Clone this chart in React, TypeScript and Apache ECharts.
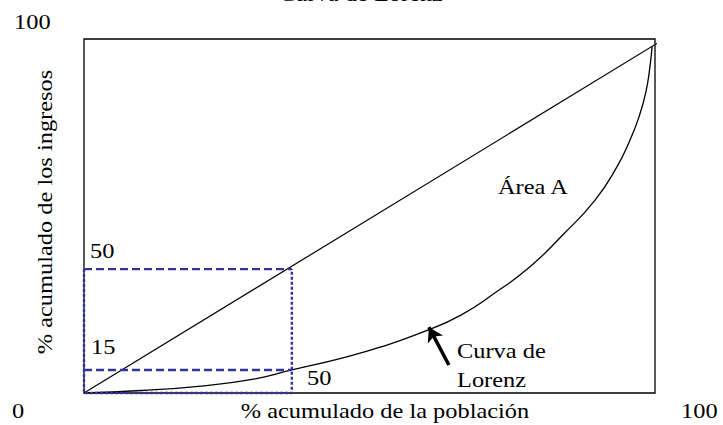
import { useEffect, useRef } from "react";
import * as echarts from "echarts";

// Lorenz curve (x: cumulative % of population, y: cumulative % of income)
const lorenzX = [0, 10, 20, 30, 36.4, 45, 52, 60, 66, 72, 78, 84, 89.5, 93.3, 95.5, 97.2, 98.4, 99.1, 99.5];
const lorenzY = [0, 0.7, 1.9, 4.0, 6.5, 9.8, 13.0, 17.6, 22.0, 28.3, 35.5, 44.9, 54.5, 63.8, 71.0, 78.0, 85.0, 92.0, 98.0];

// Line of equality
const equalityX = [0, 100.5];
const equalityY = [0, 98.9];

// Guide box (drawn position) and its labels
const guideX = 36.4;
const guideTopY = 35;
const guideLowY = 6.5;
const guideLabels = ["50", "15", "50"];

// Arrow pointing to the curve: tail and tip
const arrowX = [63.9, 60.4];
const arrowY = [7.9, 18.6];

// Texts
const cornerLabels = ["100", "0", "100"];
const chartTitle = "Curva de Lorenz";
const xTitle = "% acumulado de la población";
const yTitle = "% acumulado de los ingresos";
const areaLabel = "Área A";
const curveLabel = ["Curva de", "Lorenz"];

const FONT = "Liberation Serif";
const BLUE = "#34349c";
const STRETCH = 1.22;

function txt(text: string, x: number, y: number, align: string = "left", extra: any = {}) {
  return {
    type: "text",
    x,
    y,
    scaleX: STRETCH,
    silent: true,
    ...extra,
    style: {
      text,
      fill: "#000",
      fontSize: 20,
      fontFamily: FONT,
      align,
      verticalAlign: "middle",
    },
  };
}

export default function App() {
  const ref = useRef<HTMLDivElement>(null);
  useEffect(() => {
    if (!ref.current) return;
    const chart = echarts.init(ref.current, null, { renderer: "svg" });
    const pairs = (xs: number[], ys: number[]) => xs.map((x, i) => [x, ys[i]]);
    chart.setOption({
      animation: false,
      backgroundColor: "#fff",
      grid: {
        left: 84,
        top: 39,
        width: 571,
        height: 354,
        show: true,
        borderColor: "#000",
        borderWidth: 1.3,
        backgroundColor: "transparent",
      },
      xAxis: { type: "value", min: 0, max: 100, show: false },
      yAxis: { type: "value", min: 0, max: 100, show: false },
      series: [
        {
          type: "line",
          data: pairs(equalityX, equalityY),
          symbol: "none",
          clip: false,
          lineStyle: { color: "#000", width: 1.2 },
          z: 3,
        },
        {
          type: "line",
          data: pairs(lorenzX, lorenzY),
          symbol: "none",
          smooth: 0.5,
          clip: false,
          lineStyle: { color: "#000", width: 1.3 },
          z: 3,
        },
        {
          type: "line",
          data: [[0, guideTopY], [guideX, guideTopY]],
          symbol: "none",
          clip: false,
          lineStyle: { color: BLUE, width: 2.4, type: [8, 4] },
          z: 4,
        },
        {
          type: "line",
          data: [[0, guideLowY], [guideX, guideLowY]],
          symbol: "none",
          clip: false,
          lineStyle: { color: BLUE, width: 2.4, type: [8, 4] },
          z: 4,
        },
        {
          type: "line",
          data: [[0, guideTopY], [0, 0], [guideX, 0], [guideX, guideTopY]],
          symbol: "none",
          clip: false,
          lineStyle: { color: BLUE, width: 2.4, type: [3, 2] },
          z: 4,
        },
        {
          type: "line",
          data: [],
          symbol: "none",
          markLine: {
            silent: true,
            symbol: ["none", "arrow"],
            symbolSize: [13, 14],
            label: { show: false },
            lineStyle: { color: "#000", width: 3.5, type: "solid" },
            data: [
              [
                { coord: [arrowX[0], arrowY[0]] },
                { coord: [arrowX[1], arrowY[1]] },
              ],
            ],
          },
          z: 5,
        },
      ],
      graphic: [
        txt(chartTitle, 361, -6, "center", {}),
        txt(cornerLabels[0], 14, 22),
        txt(cornerLabels[1], 12, 411),
        txt(cornerLabels[2], 681, 411),
        txt(xTitle, 385, 411, "center"),
        txt(yTitle, 45, 212, "center", { rotation: Math.PI / 2 }),
        txt(guideLabels[0], 90, 251),
        txt(guideLabels[1], 91, 347),
        txt(guideLabels[2], 307, 378),
        txt(areaLabel, 498, 187),
        txt(curveLabel[0], 457, 351),
        txt(curveLabel[1], 457, 380),
      ],
    });
    return () => chart.dispose();
  }, []);
  return (
    <div
      ref={ref}
      style={{ position: "absolute", left: 0, top: 0, width: 723, height: 425 }}
    />
  );
}
